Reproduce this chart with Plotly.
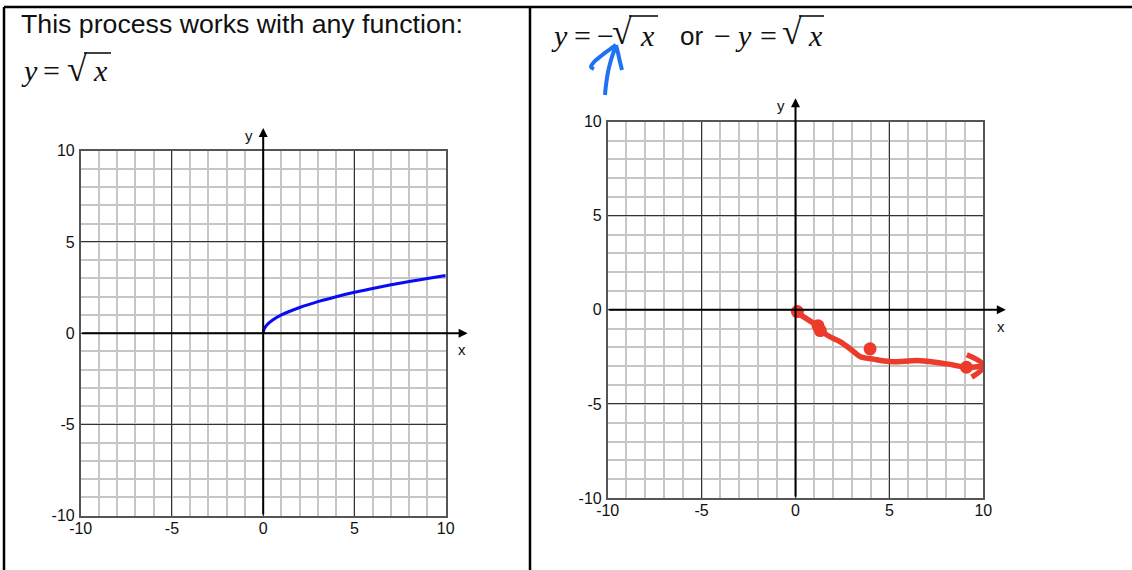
import plotly.graph_objects as go

W, H = 1132, 570

# shared tick labels for both coordinate grids
tick_vals = [-10, -5, 0, 5, 10]
tick_text = ["-10", "-5", "0", "5", "10"]

# y = sqrt(x), sampled along the blue curve
root_x = [0, 0.05, 0.2, 0.5, 1, 2, 3, 4, 5, 6, 7, 8, 9, 10]
root_y = [0, 0.22, 0.45, 0.71, 1.0, 1.41, 1.73, 2.0, 2.24, 2.45, 2.65, 2.83, 3.0, 3.16]

# hand-drawn red sketch of y = -sqrt(x)
sketch_x = [-0.12, 0.41, 1.21, 1.66, 2.37, 2.99, 3.43, 4.14, 5.03, 6.63, 8.05, 9.12, 10.04]
sketch_y = [0, -0.36, -0.89, -1.33, -1.69, -2.13, -2.48, -2.62, -2.75, -2.70, -2.87, -3.05, -2.98]
sketch_head_x = [9.12, 10.04, 9.38]
sketch_head_y = [-2.39, -2.98, -3.58]
dot_x = [0.1, 1.2, 1.32, 3.97, 9.1]
dot_y = [-0.09, -0.85, -1.1, -2.07, -3.05]

# blue pen arrow under the minus sign (page pixels)
pen_x = [605, 606, 608, 611, 614, 616, None, 616, 609, 601, 594, 591, 594, None, 616, 618, 620, 622]
pen_y = [95, 85, 72, 60, 51, 45, None, 45, 50, 56, 62, 67, 69, None, 45, 53, 62, 70]

RED = "#ec3a2b"
BLUE_PEN = "#1f72f2"
SANS = "Liberation Sans, Arial, sans-serif"
SERIF = "Liberation Serif, Times New Roman, serif"

fig = go.Figure()

fig.add_trace(go.Scatter(x=root_x, y=root_y, mode="lines", line=dict(color="#0a0af5", width=3, shape="spline"),
                         xaxis="x", yaxis="y", hoverinfo="skip"))

fig.add_trace(go.Scatter(x=sketch_x + [None] + sketch_head_x, y=sketch_y + [None] + sketch_head_y, mode="lines",
                         line=dict(color=RED, width=5.5, shape="spline"), xaxis="x2", yaxis="y2", hoverinfo="skip"))
fig.add_trace(go.Scatter(x=dot_x, y=dot_y, mode="markers", marker=dict(color=RED, size=13),
                         xaxis="x2", yaxis="y2", hoverinfo="skip"))

fig.add_trace(go.Scatter(x=pen_x, y=pen_y, mode="lines", line=dict(color=BLUE_PEN, width=4, shape="spline"),
                         xaxis="x3", yaxis="y3", hoverinfo="skip"))


def grid_axis(domain, anchor, standoff):
    return dict(
        domain=domain, anchor=anchor, range=[-10, 10], fixedrange=True,
        tickmode="array", tickvals=tick_vals, ticktext=tick_text,
        ticks="", ticklabelstandoff=standoff,
        tickfont=dict(family=SANS, size=16, color="#111"),
        showgrid=True, gridcolor="#333", gridwidth=1.3,
        minor=dict(tickmode="linear", tick0=0, dtick=1, showgrid=True, gridcolor="#c6c6c6", gridwidth=1.6),
        zeroline=False, showline=True, mirror=True, linecolor="#555", linewidth=1.6,
    )


fig.update_layout(
    width=W, height=H, margin=dict(l=0, r=0, t=0, b=0, pad=0, autoexpand=False),
    paper_bgcolor="white", plot_bgcolor="rgba(0,0,0,0)", showlegend=False,
    xaxis=grid_axis([80.7 / W, 445.7 / W], "y", -3),
    yaxis=grid_axis([1 - 515.7 / H, 1 - 150.7 / H], "x", 1),
    xaxis2=grid_axis([607.7 / W, 983.3 / W], "y2", -3),
    yaxis2=grid_axis([1 - 498 / H, 1 - 121.7 / H], "x2", 1),
    xaxis3=dict(domain=[0, 1], anchor="y3", range=[0, W], visible=False, fixedrange=True),
    yaxis3=dict(domain=[0, 1], anchor="x3", range=[H, 0], visible=False, fixedrange=True),
)

# axis arrows and axis letters
for xr, yr in (("x", "y"), ("x2", "y2")):
    for hx, hy, tx, ty in ((11.2, 0, -10, 0), (0, 11.25, 0, -10)):
        fig.add_annotation(x=hx, y=hy, ax=tx, ay=ty, xref=xr, yref=yr, axref=xr, ayref=yr, text="",
                           showarrow=True, arrowhead=2, arrowsize=0.9, arrowwidth=2, arrowcolor="black")
    fig.add_annotation(x=1.062, y=0.455, xref=xr + " domain", yref=yr + " domain", text="x", showarrow=False,
                       font=dict(family=SANS, size=15, color="#111"))
    fig.add_annotation(x=0.462, y=1.07, xref=xr + " domain", yref=yr + " domain", text="y", showarrow=False,
                       font=dict(family=SANS, size=15, color="#111"))

# table frame
for x0, y0, x1, y1 in ((4, 7, W, 7), (4, 7, 4, H), (530, 7, 530, H)):
    fig.add_shape(type="line", xref="x3", yref="y3", x0=x0, y0=y0, x1=x1, y1=y1,
                  line=dict(color="black", width=2.5))

fig.add_annotation(x=19, y=24, xref="x3", yref="y3", text="This process works with any function:",
                   xanchor="left", yanchor="middle", showarrow=False,
                   font=dict(family=SANS, size=26.7, color="#111"))

# equations, one symbol at a time: (text, centre x, centre y, size, italic)
eq_parts = [
    ("y", 29, 70, 30, True), ("=", 51, 70, 30, False), ("√", 77, 68.5, 36, False), ("x", 100, 70, 30, True),
    ("y", 559.5, 35, 30, True), ("=", 582.5, 35, 30, False), ("−", 605, 35, 30, False),
    ("√", 622, 32, 36, False), ("x", 647, 35, 30, True),
    ("−", 722.5, 35, 30, False), ("y", 743.5, 35, 30, True), ("=", 768, 35, 30, False),
    ("√", 792, 32, 36, False), ("x", 815, 35, 30, True),
]
for txt, cx, cy, size, ital in eq_parts:
    fig.add_annotation(x=cx, y=cy, xref="x3", yref="y3", text=f"<i>{txt}</i>" if ital else txt,
                       showarrow=False, font=dict(family=SERIF, size=size, color="#111"))
fig.add_annotation(x=691, y=36, xref="x3", yref="y3", text="or", showarrow=False,
                   font=dict(family=SANS, size=26, color="#111"))

# radical bars
for x0, x1, y in ((84, 111, 53), (629, 658, 16), (799, 824, 16)):
    fig.add_shape(type="line", xref="x3", yref="y3", x0=x0, y0=y, x1=x1, y1=y, line=dict(color="#111", width=1.6))

fig.write_html("out.html")
